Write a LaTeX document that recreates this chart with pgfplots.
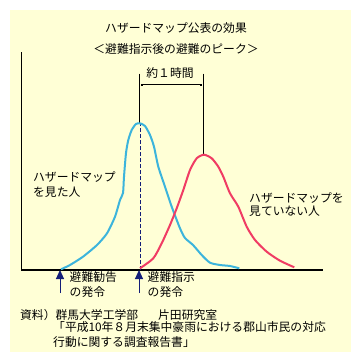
\documentclass[border=0pt]{standalone}
\usepackage{pgfplots}
\pgfplotsset{compat=1.18}
\usepackage{fontspec}
\setmainfont{Noto Sans CJK JP}
\usetikzlibrary{arrows.meta}
\definecolor{cream}{RGB}{255,255,214}
\definecolor{cblue}{RGB}{60,180,220}
\definecolor{cred}{RGB}{240,60,100}
\definecolor{navy}{RGB}{20,30,120}
\tikzset{lbl/.style={font=\fontsize{11.8bp}{14bp}\selectfont, inner sep=0pt}}
\begin{document}
\begin{tikzpicture}[font=\fontsize{11.8bp}{14bp}\selectfont]
\begin{axis}[
  scale only axis, width=301.5bp, height=218bp,
  xmin=21.5, xmax=323, ymin=0, ymax=218,
  hide axis, clip=false,
]
% page and background
\fill[white] (axis cs:0,-92) rectangle (axis cs:361,270);
\fill[cream] (axis cs:10,-82) rectangle (axis cs:351,260);
% axis lines
\draw[black, line width=1.1bp] (axis cs:21.5,218) -- (axis cs:21.5,0) -- (axis cs:323,0);
% peak guides
\draw[navy, line width=0.8bp, dash pattern=on 4bp off 2bp] (axis cs:140,0) -- (axis cs:140,146.7);
\draw[black, line width=0.8bp] (axis cs:139.5,196.5) -- (axis cs:139.5,146.7);
\draw[black, line width=0.8bp] (axis cs:203.5,196.5) -- (axis cs:203.5,115.3);
\draw[black, line width=0.9bp, {Square[length=2.2bp,width=2.2bp]}-{Square[length=2.2bp,width=2.2bp]}] (axis cs:141,185.3) -- (axis cs:202,185.3);
\node[lbl] at (axis cs:170,197) {約１時間};
% curves
\addplot[cblue, line width=2bp, smooth, tension=0.4] coordinates {
(61,0.7) (70,5) (83,13.3) (97,25) (107,36.7) (115,53.3) (120,70) (123,77)
(124,93.3) (126,117) (128.3,130) (131.7,140) (136,146) (140,146.7) (145,144)
(150,135) (154,123.3) (158.3,103.3) (165,83.3) (171.7,63.3) (180,41.7)
(185,32) (193,25) (201.7,15) (210,7.3) (220,5) (230,4) (239.3,1.7)
};
\addplot[cred, line width=2bp, smooth, tension=0.4] coordinates {
(140,1.7) (153.3,11.7) (161.7,26.7) (170,45) (176.7,61.7) (183.3,80)
(190,100) (196.7,111.7) (204,115.3) (211.7,111.7) (218.3,103.3) (223.3,93.3)
(230,76.7) (238.3,63.3) (246.7,43.3) (255,30) (266.7,18.3) (280,9.3) (294.3,2.7)
};
% arrows
\draw[navy, line width=1bp, -{Triangle[length=9bp,width=8bp]}] (axis cs:60,-23) -- (axis cs:60,0);
\draw[navy, line width=1bp, -{Triangle[length=9bp,width=8bp]}] (axis cs:139,-23) -- (axis cs:139,0);
% titles
\node[lbl] at (axis cs:176,242) {ハザードマップ公表の効果};
\node[lbl] at (axis cs:176,221) {＜避難指示後の避難のピーク＞};
% labels
\node[lbl,anchor=west] at (axis cs:33,93) {ハザードマップ};
\node[lbl,anchor=west] at (axis cs:33,78) {を見た人};
\node[lbl,anchor=west] at (axis cs:249,72) {ハザードマップを};
\node[lbl,anchor=west] at (axis cs:249,59) {見ていない人};
\node[lbl,anchor=west] at (axis cs:69.5,-7) {避難勧告};
\node[lbl,anchor=west] at (axis cs:69.5,-22) {の発令};
\node[lbl,anchor=west] at (axis cs:147.5,-7) {避難指示};
\node[lbl,anchor=west] at (axis cs:147.5,-22) {の発令};
% source
\node[lbl,anchor=west] at (axis cs:20,-45) {資料）群馬大学工学部\hspace{20bp}片田研究室};
\node[lbl,anchor=west] at (axis cs:53,-57) {「平成10年８月末集中豪雨における郡山市民の対応};
\node[lbl,anchor=west] at (axis cs:53,-72) {行動に関する調査報告書」};
\end{axis}
\end{tikzpicture}
\end{document}
